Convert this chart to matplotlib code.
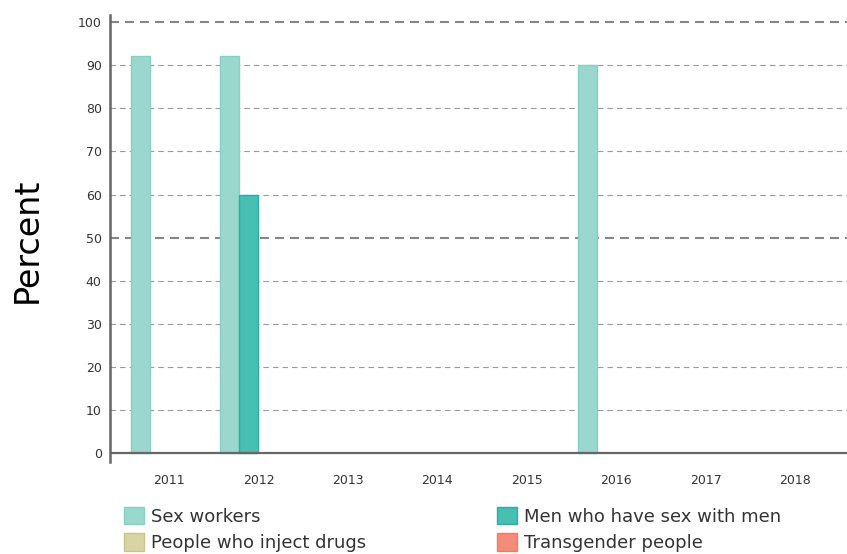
import matplotlib
matplotlib.use("Agg")
import matplotlib.pyplot as plt
import numpy as np
from matplotlib.patches import Patch

years = ["2011", "2012", "2013", "2014", "2015", "2016", "2017", "2018"]
series_names = ["Sex workers", "Men who have sex with men",
                "People who inject drugs", "Transgender people"]
sex_workers = [92, 92, None, None, None, 90, None, None]
msm = [None, 60, None, None, None, None, None, None]
pwid = [None] * 8
transgender = [None] * 8
yticks = [0, 10, 20, 30, 40, 50, 60, 70, 80, 90, 100]

fills = ["#9ad8cd", "#47bfb2", "#d9d5a3", "#f48c78"]
edges = ["#85d0c3", "#2eae9f", "#c9c48c", "#ee7c67"]

fig = plt.figure(figsize=(8.47, 5.54), dpi=100)
ax = fig.add_axes([110/847, 1 - 461.7/554, 1 - 110/847, (461.7 - 15)/554])

x = np.arange(len(years))
w = 0.2125
all_series = [sex_workers, msm, pwid, transgender]
for i, vals in enumerate(all_series):
    xs = [x[j] + (i - 1.5) * w for j, v in enumerate(vals) if v is not None]
    hs = [v for v in vals if v is not None]
    if hs:
        ax.bar(xs, hs, width=w, color=fills[i], edgecolor=edges[i],
               linewidth=1.0, zorder=2)

# grid lines
for t in yticks[1:]:
    if t in (50, 100):
        ax.axhline(t, color="#858585", lw=1.5, ls=(0, (4.3, 2.9)), zorder=1)
    else:
        ax.axhline(t, color="#9a9a9a", lw=0.8, ls=(0, (5.0, 3.6)), zorder=1)
ax.axhline(0, color="#666666", lw=1.6, zorder=3)

ax.set_xlim(-0.66, 7.58)
ax.set_ylim(-1.9, 101.6)
ax.set_yticks(yticks)
ax.set_xticks(x)
ax.set_xticklabels(years)
ax.tick_params(axis="y", length=0, pad=6, labelsize=9, labelcolor="#333333")
ax.tick_params(axis="x", length=0, pad=9, labelsize=9, labelcolor="#333333")

for s in ["top", "right", "bottom"]:
    ax.spines[s].set_visible(False)
ax.spines["left"].set_color("#666666")
ax.spines["left"].set_linewidth(1.8)

fig.text(27/847, 1 - 240/554, "Percent", rotation=90, fontsize=24,
         va="center", ha="center", color="#000000")

handles = [Patch(facecolor=fills[k], edgecolor=edges[k]) for k in range(4)]
order = [0, 2, 1, 3]
leg = fig.legend([handles[k] for k in order], [series_names[k] for k in order],
                 ncol=2, loc="upper left", bbox_to_anchor=(124/847, 1 - 507/554),
                 frameon=False, fontsize=13, handlelength=1.11, handleheight=1.11,
                 handletextpad=0.39, columnspacing=7.25, labelspacing=0.42,
                 borderpad=0, borderaxespad=0)
for t in leg.get_texts():
    t.set_color("#333333")

fig.savefig("out.png", dpi=100)
